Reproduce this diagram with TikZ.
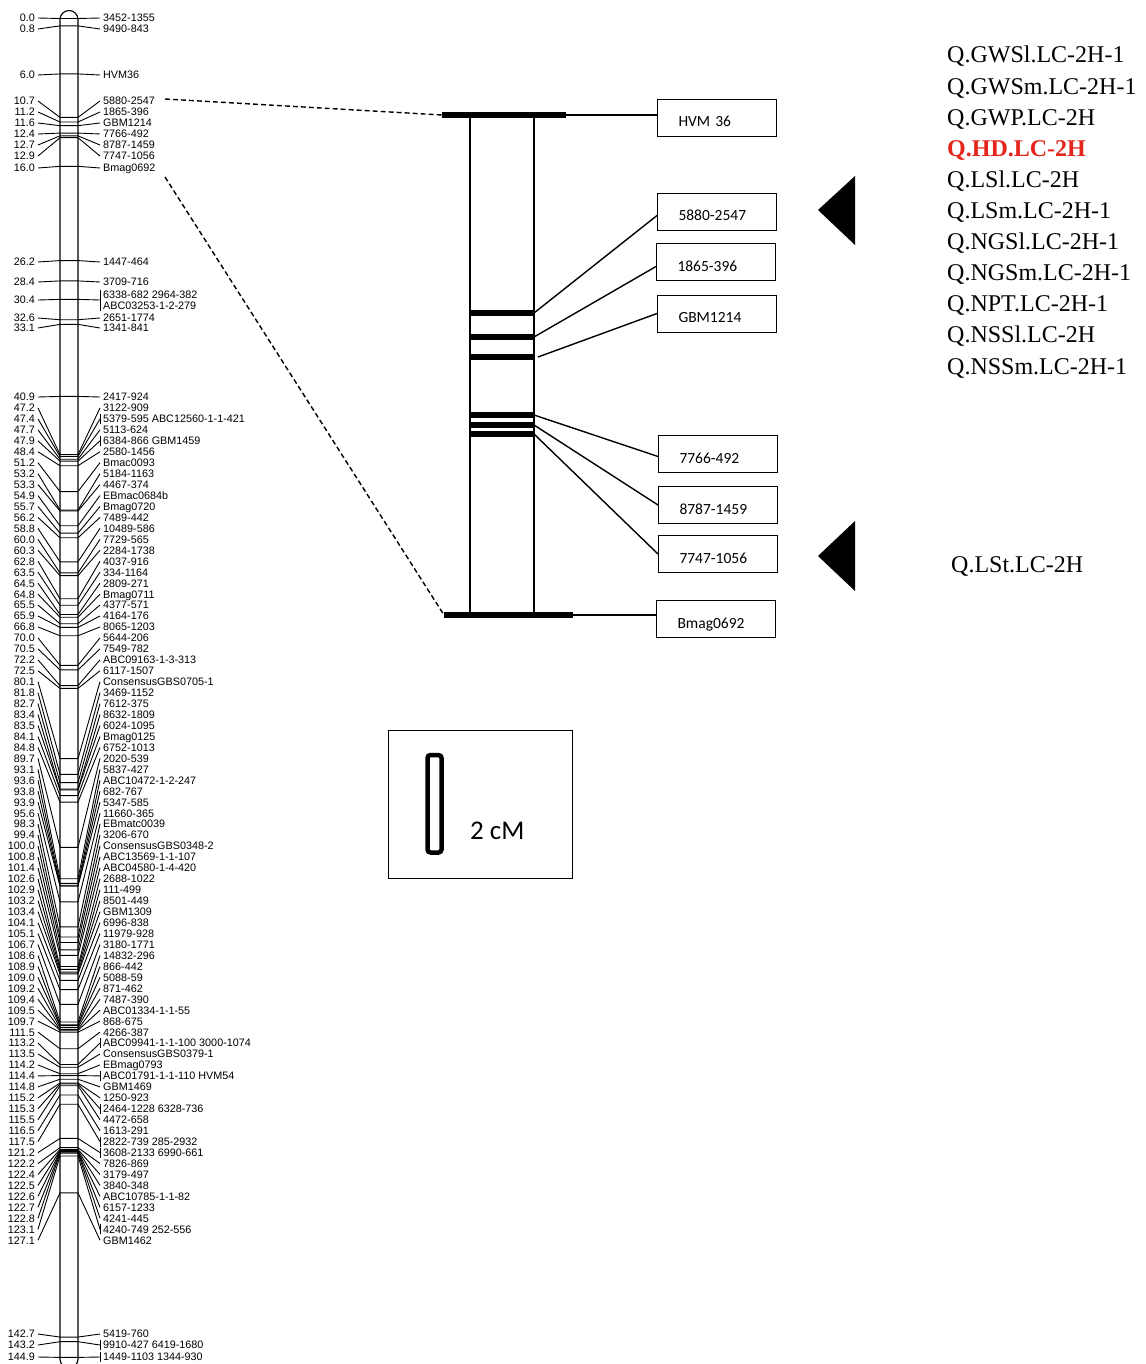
\documentclass[tikz,border=0pt]{standalone}
\usepackage{fontspec}
\setmainfont{Liberation Sans}
\newfontfamily\boxfont{Carlito}
\newfontfamily\qfont{Liberation Serif}
\usetikzlibrary{calc}
\definecolor{qred}{RGB}{228,38,28}
\begin{document}
\begin{tikzpicture}[x=1pt,y=-1pt,
  lab/.style={font=\fontsize{10.8}{11}\selectfont, inner sep=0pt},
  conn/.style={line width=0.9pt},
  zconn/.style={line width=1.4pt},
  chrom/.style={line width=1.1pt},
  mbox/.style={draw, line width=1pt, minimum width=119pt, minimum height=37pt,
    inner xsep=21pt, inner ysep=0pt, text width=77pt, align=left,
    text height=18pt, text depth=0pt, font=\boxfont\fontsize{15.5}{16}\selectfont,
    anchor=north west},
  thickbar/.style={line width=5.5pt},
  zoomline/.style={line width=1.4pt, dash pattern=on 5pt off 3pt},
  qlab/.style={font=\qfont\fontsize{24}{25}\selectfont, anchor=base west, inner sep=0pt}
]
\useasboundingbox (0,0) rectangle (1145,1364);

% chromosome
\draw[chrom, rounded corners=9pt] (60,10.5) rectangle (78,1368);

% markers with individual label positions
\foreach \cm/\ly/\mk/\tk [count=\i] in {
  0.0/18/3452-1355/0, 0.8/29/9490-843/0, 6.0/75/HVM36/0,
  10.7/101/5880-2547/0, 11.2/112/1865-396/0, 11.6/123/GBM1214/0,
  12.4/134/7766-492/0, 12.7/145/8787-1459/0, 12.9/156/7747-1056/0,
  16.0/168/Bmag0692/0, 26.2/262/1447-464/0, 28.4/282/3709-716/0,
  32.6/318/2651-1774/0, 33.1/328/1341-841/0,
  142.7/1334/5419-760/0, 143.2/1345/9910-427 6419-1680/1,
  144.9/1357/1449-1103 1344-930/1}{
  \pgfmathsetmacro\by{18.5+\cm*9.24}
  \node[lab, anchor=base east] (na\i) at (35,\ly+3.9) {\cm};
  \node[lab, anchor=base west] (ma\i) at (103,\ly+3.9) {\mk};
  \coordinate (pa\i) at (60,\by);
  \coordinate (qa\i) at (78,\by);
  \draw[conn] (38,\ly) -- (pa\i) -- (qa\i) -- (100,\ly);
  \ifnum\tk=1 \draw[conn] (100,\ly-5) -- (100,\ly+5); \fi
}

% 30.4 two-line entry
\node[lab, anchor=base east] (n304) at (35,303.9) {30.4};
\node[lab, anchor=base west] (m304a) at (103,298.9) {6338-682 2964-382};
\node[lab, anchor=base west] (m304b) at (103,309.9) {ABC03253-1-2-279};
\coordinate (p304) at (60,{18.5+30.4*9.24});
\coordinate (q304) at (78,{18.5+30.4*9.24});
\draw[conn] (38,300) -- (p304) -- (q304) -- (100,300);
\draw[conn] (100,290) -- (100,311);

% dense block, evenly spaced labels
\foreach \cm/\mk/\tk [count=\i from 0] in {
  40.9/2417-924/0, 47.2/3122-909/0, 47.4/5379-595 ABC12560-1-1-421/1,
  47.7/5113-624/0, 47.9/6384-866 GBM1459/1, 48.4/2580-1456/0,
  51.2/Bmac0093/0, 53.2/5184-1163/0, 53.3/4467-374/0, 54.9/EBmac0684b/0,
  55.7/Bmag0720/0, 56.2/7489-442/0, 58.8/10489-586/0, 60.0/7729-565/0,
  60.3/2284-1738/0, 62.8/4037-916/0, 63.5/334-1164/0, 64.5/2809-271/0,
  64.8/Bmag0711/0, 65.5/4377-571/0, 65.9/4164-176/0, 66.8/8065-1203/0,
  70.0/5644-206/0, 70.5/7549-782/0, 72.2/ABC09163-1-3-313/0, 72.5/6117-1507/0,
  80.1/ConsensusGBS0705-1/0, 81.8/3469-1152/0, 82.7/7612-375/0,
  83.4/8632-1809/0, 83.5/6024-1095/0, 84.1/Bmag0125/0, 84.8/6752-1013/0,
  89.7/2020-539/0, 93.1/5837-427/0, 93.6/ABC10472-1-2-247/0, 93.8/682-767/0,
  93.9/5347-585/0, 95.6/11660-365/0, 98.3/EBmatc0039/0, 99.4/3206-670/0,
  100.0/ConsensusGBS0348-2/0, 100.8/ABC13569-1-1-107/0, 101.4/ABC04580-1-4-420/0,
  102.6/2688-1022/0, 102.9/111-499/0, 103.2/8501-449/0, 103.4/GBM1309/0,
  104.1/6996-838/0, 105.1/11979-928/0, 106.7/3180-1771/0, 108.6/14832-296/0,
  108.9/866-442/0, 109.0/5088-59/0, 109.2/871-462/0, 109.4/7487-390/0,
  109.5/ABC01334-1-1-55/0, 109.7/868-675/0, 111.5/4266-387/0,
  113.2/ABC09941-1-1-100 3000-1074/1, 113.5/ConsensusGBS0379-1/0,
  114.2/EBmag0793/0, 114.4/ABC01791-1-1-110 HVM54/1, 114.8/GBM1469/0,
  115.2/1250-923/0, 115.3/2464-1228 6328-736/1, 115.5/4472-658/0,
  116.5/1613-291/0, 117.5/2822-739 285-2932/1, 121.2/3608-2133 6990-661/1,
  122.2/7826-869/0, 122.4/3179-497/0, 122.5/3840-348/0, 122.6/ABC10785-1-1-82/0,
  122.7/6157-1233/0, 122.8/4241-445/0, 123.1/4240-749 252-556/1, 127.1/GBM1462/0}{
  \pgfmathsetmacro\by{18.5+\cm*9.24}
  \pgfmathsetmacro\ly{397+10.95*\i}
  \node[lab, anchor=base east] (nb\i) at (35,\ly+3.9) {\cm};
  \node[lab, anchor=base west] (mb\i) at (103,\ly+3.9) {\mk};
  \coordinate (pb\i) at (60,\by);
  \coordinate (qb\i) at (78,\by);
  \draw[conn] (38,\ly) -- (pb\i) -- (qb\i) -- (100,\ly);
  \ifnum\tk=1 \draw[conn] (100,\ly-5) -- (100,\ly+5); \fi
}

% zoomed segment
\coordinate (t1) at (442,115); \coordinate (t2) at (566,115);
\coordinate (b1) at (444,615); \coordinate (b2) at (573,615);
\draw[line width=1.5pt] (470,115) -- (470,615) (534,115) -- (534,615);
\draw[thickbar] (t1) -- (t2);
\draw[thickbar] (b1) -- (b2);
\foreach \yy/\nm in {313/z1,337/z2,357/z3,415/z4,425/z5,434/z6}{
  \draw[thickbar] (470,\yy) -- (534,\yy);
  \coordinate (\nm) at (534,\yy);
}
\draw[zoomline] (165,99) -- (t1);
\draw[zoomline] (165,177) -- (b1);

\node[mbox] (hvm) at (657,99) {HVM 36};
\node[mbox] (bx1) at (657,193) {5880-2547};
\node[mbox] (bx2) at (656,243) {1865-396};
\node[mbox] (bx3) at (657,294.5) {GBM1214};
\node[mbox] (bx4) at (658,435) {7766-492};
\node[mbox] (bx5) at (658,486) {8787-1459};
\node[mbox] (bx6) at (658,535) {7747-1056};
\node[mbox] (bx7) at (656,600) {Bmag0692};

\draw[zconn] (t2) -- (t2 -| hvm.west);
\draw[zconn] (z1) -- ($(bx1.west)+(0,3.5)$);
\draw[zconn] (z2) -- ($(bx2.west)+(0,4.5)$);
\draw[zconn] ($(z3)+(4,0)$) -- (bx3.west);
\draw[zconn] (z4) -- ($(bx4.west)+(0,2.5)$);
\draw[zconn] (z5) -- (bx5.west);
\draw[zconn] (z6) -- (bx6.west);
\draw[zconn] (b2) -- (b2 -| bx7.west);

% scale box
\node[draw, line width=1pt, minimum width=184pt, minimum height=148pt, anchor=north west, inner sep=0pt] (scalebox) at (388,730) {};
\draw[line width=4.5pt, rounded corners=3pt] (427.5,755) rectangle (441.5,852.5);
\node[font=\boxfont\fontsize{27}{28}\selectfont, anchor=base west, inner sep=0pt] (cmlab) at (470,839) {2 cM};

% triangles
\fill (818,210) -- (855,176) -- (855,245) -- cycle;
\fill (818,556) -- (855,521) -- (855,591) -- cycle;

% QTL labels
\foreach \q [count=\i from 0] in {Q.GWSl.LC-2H-1, Q.GWSm.LC-2H-1, Q.GWP.LC-2H, {}, Q.LSl.LC-2H,
  Q.LSm.LC-2H-1, Q.NGSl.LC-2H-1, Q.NGSm.LC-2H-1, Q.NPT.LC-2H-1, Q.NSSl.LC-2H, Q.NSSm.LC-2H-1}{
  \node[qlab] (q\i) at (947,{63+31.1*\i}) {\q};
}
\node[qlab, text=qred, font=\qfont\bfseries\fontsize{24}{25}\selectfont] (qhd) at (947,{63+31.1*3}) {Q.HD.LC-2H};
\node[qlab] (qlst) at (951,572) {Q.LSt.LC-2H};
\end{tikzpicture}
\end{document}
